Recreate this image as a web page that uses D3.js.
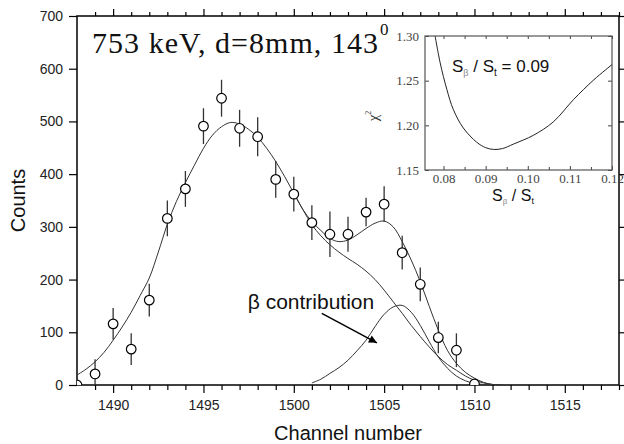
<!DOCTYPE html>
<html><head><meta charset="utf-8">
<script src="https://cdn.jsdelivr.net/npm/d3@7"></script>
<style>body{margin:0;background:#fff}svg{display:block}</style>
</head><body>
<svg id="c" width="624" height="444"></svg>
<script>
// ---- data ----
const channels    = [1488,1489,1490,1491,1492,1493,1494,1495,1496,1497,1498,1499,1500,1501,1502,1503,1504,1505,1506,1507,1508,1509,1510];
const counts      = [0,21,116,68,161,316,372,491,544,487,471,390,362,308,286,286,328,343,251,191,90,66,2];
const countErrors = [0,28,30,30,31,34,34,34,35,35,37,35,33,33,43,33,27,34,32,32,30,32,0];

const fitChannels = [1488,1488.5,1489,1489.5,1490,1490.5,1491,1491.5,1492,1492.5,1493,1493.5,1494,1494.5,1495,1495.5,1496,1496.5,1497,1497.5,1498,1498.5,1499,1499.5,1500,1500.5,1501,1501.5,1502,1502.5,1503,1503.5,1504,1504.5,1505,1505.5,1506,1506.5,1507,1507.5,1508,1508.5,1509,1509.5,1510,1510.5,1511,1511.5];
const fitTotal    = [19,30,44,62,85,110,138,170,203,252,305,348,384,417,449,474,490,498,495,485,470,449,424,395,364,333,310,293,278,272,275,285,297,307,311,300,272,237,196,149,104,66,41,24,13,5,1,0];

const mainChannels  = [1500,1500.5,1501,1501.5,1502,1502.5,1503,1503.5,1504,1504.5,1505,1505.5,1506,1506.5,1507,1507.5,1508,1508.5,1509,1509.5,1510,1510.5,1511,1511.5];
const mainComponent = [364,333,304,283,266,252,240,229,216,200,180,158,136,113,92,72,54,39,28,17,9,4,1,0];

const betaChannels  = [1501,1501.5,1502,1502.5,1503,1503.5,1504,1504.5,1505,1505.5,1506,1506.5,1507,1507.5,1508,1508.5,1509,1509.5,1510,1510.5,1511];
const betaComponent = [4,11,22,33,47,65,85,111,134,148,151,138,113,82,53,32,17,8,3,1,0];

const xMajorTicks = [1490,1495,1500,1505,1510,1515];
const xMinorTicks = [1489,1491,1492,1493,1494,1496,1497,1498,1499,1501,1502,1503,1504,1506,1507,1508,1509,1511,1512,1513,1514,1516,1517,1518];
const yTicks = [0,100,200,300,400,500,600,700];

const insetRatio = [0.0780,0.0792,0.0808,0.0823,0.0847,0.0879,0.0900,0.0919,0.0940,0.0966,0.1014,0.1061,0.1109,0.1157,0.1200];
const insetChi2  = [1.300,1.270,1.240,1.218,1.197,1.181,1.175,1.173,1.174,1.179,1.189,1.204,1.229,1.251,1.268];
const insetXTicks = [0.08,0.09,0.10,0.11,0.12];
const insetXMinor = [0.085,0.095,0.105,0.115];
const insetYTicks = [1.15,1.20,1.25,1.30];

const arrowFrom = [1501.55,136], arrowTo = [1504.6,80];
const betaLabelPos = [1497.45,145];

// ---- drawing ----
const svg = d3.select("#c");
const W = 624, H = 444;
const m = {l:77, t:16, r:5, b:59};
const x = d3.scaleLinear([1488,1518],[m.l, W-m.r]);
const y = d3.scaleLinear([0,700],[H-m.b, m.t]);
const sans = "Liberation Sans, Arial, sans-serif";
const serif = "Liberation Serif, Times New Roman, serif";

svg.append("defs").append("clipPath").attr("id","pc")
  .append("rect").attr("x",m.l).attr("y",m.t).attr("width",W-m.r-m.l).attr("height",H-m.b-m.t);

function styleAxis(g, fs){
  g.select(".domain").remove();
  g.selectAll("line").attr("stroke","#000").attr("stroke-width",1.2);
  g.selectAll("text").attr("font-family",sans).attr("font-size",fs).attr("fill","#222");
}
// bottom
svg.append("g").attr("transform",`translate(0,${H-m.b})`)
  .call(d3.axisBottom(x).tickValues(xMajorTicks).tickSize(8).tickPadding(7).tickFormat(d3.format("d")))
  .call(g=>styleAxis(g,14));
svg.append("g").attr("transform",`translate(0,${H-m.b})`)
  .call(d3.axisBottom(x).tickValues(xMinorTicks).tickSize(5).tickFormat(""))
  .call(g=>styleAxis(g,14));
// top
svg.append("g").attr("transform",`translate(0,${m.t})`)
  .call(d3.axisTop(x).tickValues(xMajorTicks).tickSize(7).tickFormat(""))
  .call(g=>styleAxis(g,14));
svg.append("g").attr("transform",`translate(0,${m.t})`)
  .call(d3.axisTop(x).tickValues(xMinorTicks).tickSize(4).tickFormat(""))
  .call(g=>styleAxis(g,14));
// left
svg.append("g").attr("transform",`translate(${m.l},0)`)
  .call(d3.axisLeft(y).tickValues(yTicks).tickSize(8).tickPadding(6).tickFormat(d3.format("d")))
  .call(g=>styleAxis(g,14));
// right
svg.append("g").attr("transform",`translate(${W-m.r},0)`)
  .call(d3.axisRight(y).tickValues(yTicks).tickSize(6).tickFormat(""))
  .call(g=>styleAxis(g,14));

// frame
svg.append("rect").attr("x",m.l).attr("y",m.t).attr("width",W-m.r-m.l).attr("height",H-m.b-m.t)
  .attr("fill","none").attr("stroke","#000").attr("stroke-width",1.5);

// axis titles
svg.append("text").attr("x",(m.l+W-m.r)/2).attr("y",440).attr("text-anchor","middle")
  .attr("font-family",sans).attr("font-size",20).attr("fill","#111").text("Channel number");
svg.append("text").attr("transform",`translate(25,${(m.t+H-m.b)/2}) rotate(-90)`).attr("text-anchor","middle")
  .attr("font-family",sans).attr("font-size",20).attr("fill","#111").text("Counts");

const plot = svg.append("g").attr("clip-path","url(#pc)");
const line = d3.line().curve(d3.curveCatmullRom.alpha(0.5));

function drawCurve(xs, ys){
  plot.append("path").attr("d", line(xs.map((c,i)=>[x(c), y(ys[i])])))
    .attr("fill","none").attr("stroke","#333").attr("stroke-width",1);
}
drawCurve(fitChannels, fitTotal);
drawCurve(mainChannels, mainComponent);
drawCurve(betaChannels, betaComponent);

// error bars
plot.selectAll("line.err").data(channels).join("line").attr("class","err")
  .attr("x1",d=>x(d)).attr("x2",d=>x(d))
  .attr("y1",(d,i)=>y(counts[i]-countErrors[i])).attr("y2",(d,i)=>y(counts[i]+countErrors[i]))
  .attr("stroke","#333").attr("stroke-width",1.3);
// points
plot.selectAll("circle.pt").data(channels).join("circle").attr("class","pt")
  .attr("cx",d=>x(d)).attr("cy",(d,i)=>y(counts[i])).attr("r",4.8)
  .attr("fill","#fff").attr("stroke","#000").attr("stroke-width",1.2);

// title
svg.append("text").attr("x",92).attr("y",53)
  .attr("font-family",serif).attr("font-size",30).attr("fill","#111")
  .attr("textLength",286).attr("lengthAdjust","spacing").text("753 keV, d=8mm, 143");
svg.append("text").attr("x",380).attr("y",35)
  .attr("font-family",serif).attr("font-size",17).attr("fill","#111").text("0");

// beta annotation
svg.append("text").attr("x",x(betaLabelPos[0])).attr("y",y(betaLabelPos[1]))
  .attr("font-family",sans).attr("font-size",21).attr("fill","#111").text("\u03B2 contribution");
svg.append("defs").append("marker").attr("id","ah").attr("viewBox","0 0 10 10").attr("refX",10).attr("refY",5)
  .attr("markerWidth",10).attr("markerHeight",8).attr("markerUnits","userSpaceOnUse").attr("orient","auto")
  .append("path").attr("d","M0,0 L10,5 L0,10 Z").attr("fill","#000");
svg.append("line").attr("x1",x(arrowFrom[0])).attr("y1",y(arrowFrom[1])).attr("x2",x(arrowTo[0])).attr("y2",y(arrowTo[1]))
  .attr("stroke","#000").attr("stroke-width",1.5).attr("marker-end","url(#ah)");

// ---- inset ----
const ix = d3.scaleLinear([0.0756,0.12],[425,612]);
const iy = d3.scaleLinear([1.15,1.30],[170,36]);
const inset = svg.append("g");
inset.append("rect").attr("x",425).attr("y",36).attr("width",187).attr("height",134).attr("fill","#fff");
function styleInset(g){
  g.select(".domain").remove();
  g.selectAll("line").attr("stroke","#444").attr("stroke-width",1);
  g.selectAll("text").attr("font-family",serif).attr("font-size",13).attr("fill","#444");
}
inset.append("g").attr("transform","translate(0,170)")
  .call(d3.axisBottom(ix).tickValues(insetXTicks).tickSizeInner(-4).tickSizeOuter(0).tickPadding(4).tickFormat(d3.format(".2f")))
  .call(styleInset);
inset.append("g").attr("transform","translate(0,170)")
  .call(d3.axisBottom(ix).tickValues(insetXMinor).tickSizeInner(-3).tickSizeOuter(0).tickFormat(""))
  .call(styleInset);
inset.append("g").attr("transform","translate(0,36)")
  .call(d3.axisTop(ix).tickValues(insetXTicks.concat(insetXMinor)).tickSizeInner(-3).tickSizeOuter(0).tickFormat(""))
  .call(styleInset);
inset.append("g").attr("transform","translate(425,0)")
  .call(d3.axisLeft(iy).tickValues(insetYTicks).tickSizeInner(-4).tickSizeOuter(0).tickPadding(6).tickFormat(d3.format(".2f")))
  .call(styleInset);
inset.append("g").attr("transform","translate(612,0)")
  .call(d3.axisRight(iy).tickValues(insetYTicks).tickSizeInner(-4).tickSizeOuter(0).tickFormat(""))
  .call(styleInset);
inset.append("rect").attr("x",425).attr("y",36).attr("width",187).attr("height",134)
  .attr("fill","none").attr("stroke","#555").attr("stroke-width",1.2);
inset.append("path").attr("d", d3.line().curve(d3.curveCatmullRom.alpha(0.5))(insetRatio.map((r,i)=>[ix(r), iy(insetChi2[i])])))
  .attr("fill","none").attr("stroke","#222").attr("stroke-width",1);

// inset texts
const it = inset.append("text").attr("x",452).attr("y",72).attr("font-family",sans).attr("font-size",17).attr("fill","#111");
it.append("tspan").text("S");
it.append("tspan").attr("font-size",9).attr("fill","#888").attr("dy",4).text("\u03B2");
it.append("tspan").attr("dy",-4).text(" / S");
it.append("tspan").attr("font-size",10).attr("dy",4).text("t");
it.append("tspan").attr("dy",-4).text(" = 0.09");

const xl = inset.append("text").attr("x",513).attr("y",201).attr("text-anchor","middle").attr("font-family",sans).attr("font-size",16).attr("fill","#111");
xl.append("tspan").text("S");
xl.append("tspan").attr("font-size",8).attr("fill","#888").attr("dy",3).text("\u03B2");
xl.append("tspan").attr("dy",-3).text(" / S");
xl.append("tspan").attr("font-size",9).attr("dy",3).text("t");

const yl = inset.append("text").attr("transform","translate(378,116) rotate(-90)").attr("text-anchor","middle")
  .attr("font-family",serif).attr("font-size",15).attr("fill","#333");
yl.append("tspan").text("\u03C7");
yl.append("tspan").attr("font-size",8).attr("dy",-7).text("2");
</script>
</body></html>
